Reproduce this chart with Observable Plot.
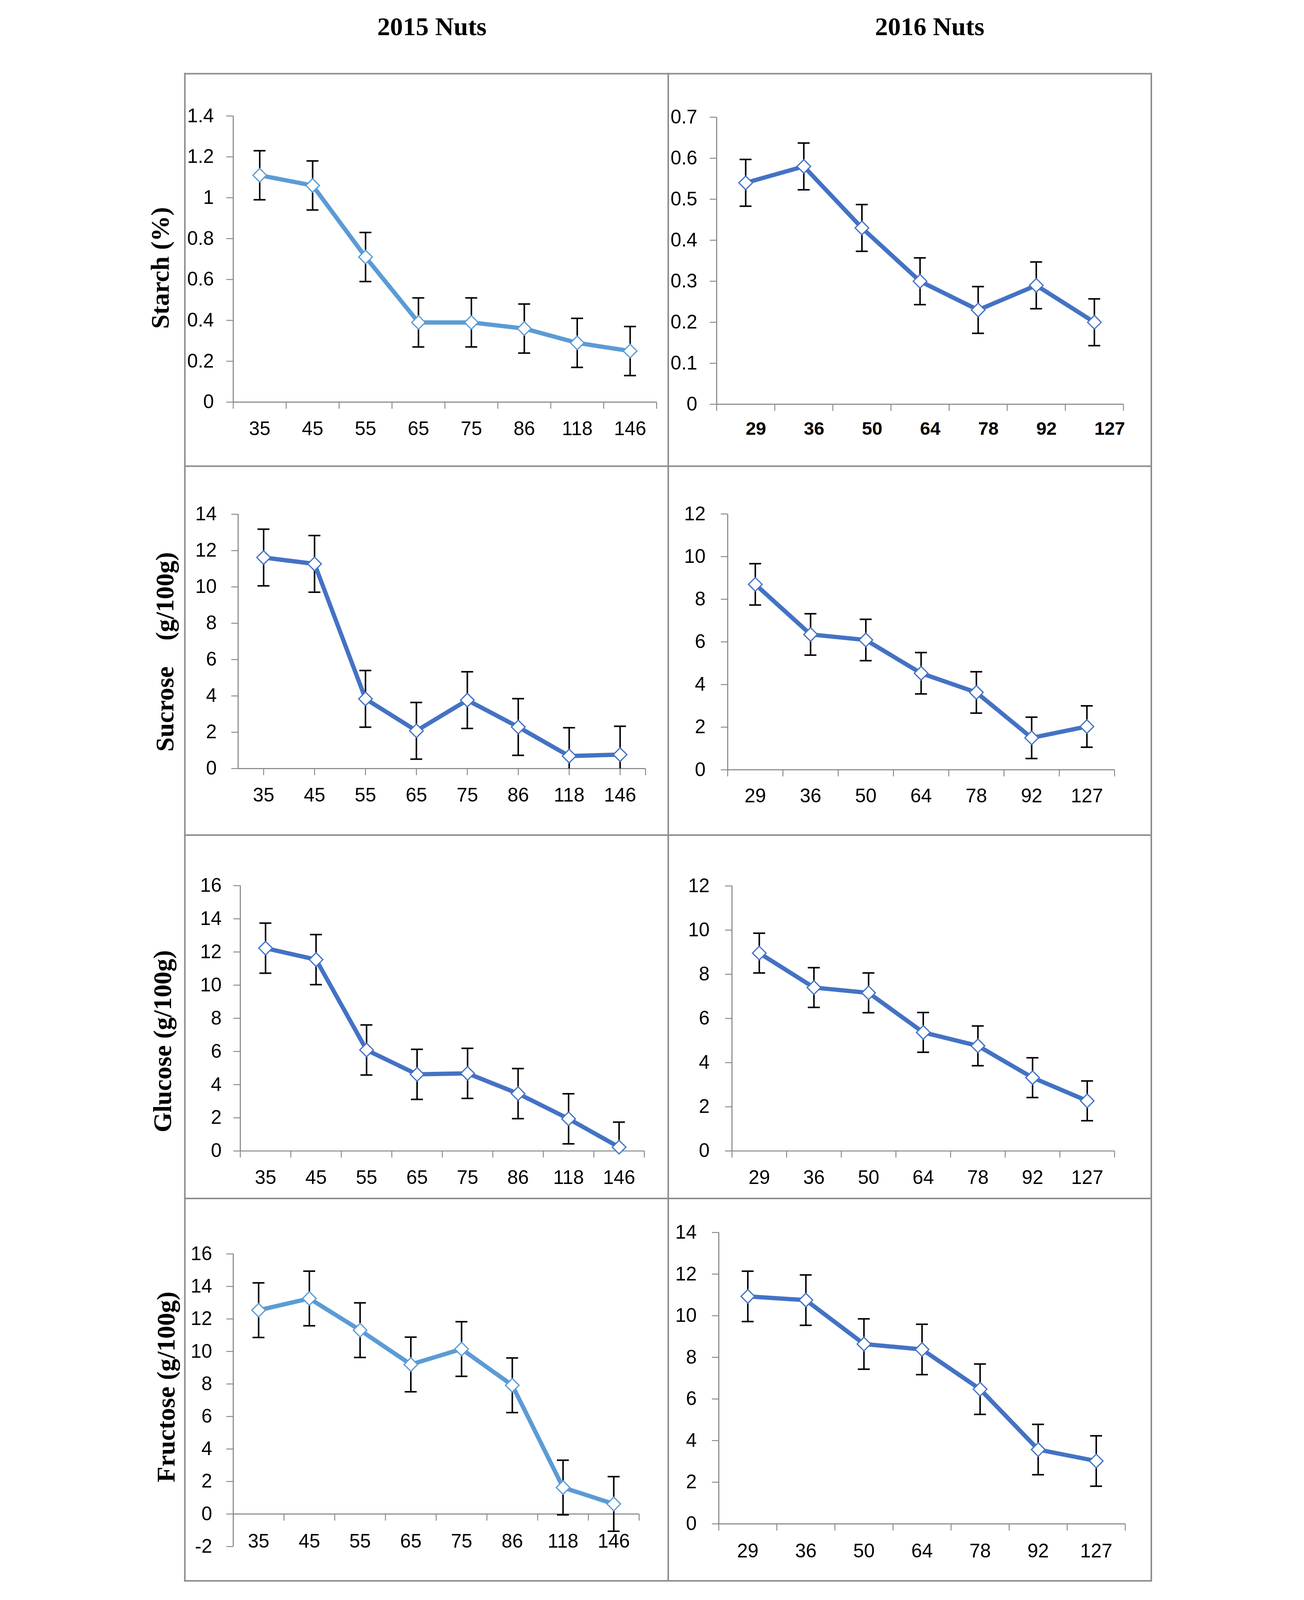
<!DOCTYPE html>
<html>
<head>
<meta charset="utf-8">
<script src="https://cdn.jsdelivr.net/npm/d3@7"></script>
<script src="https://cdn.jsdelivr.net/npm/@observablehq/plot@0.6"></script>
<style>
html, body { margin: 0; padding: 0; background: #fff; overflow: hidden; }
#page { position: absolute; left: 0; top: 0; width: 3339px; height: 5222px; background: #fff; overflow: hidden; transform-origin: 0 0; }
.title { position: absolute; font-family: "Liberation Serif", "Times New Roman", serif; font-weight: bold; font-size: 84px; line-height: 1; white-space: nowrap; transform: translate(-50%, 0); color: #000; }
.panel { position: absolute; }
.panel svg { overflow: visible; }
.rule { position: absolute; background: #8c8c8c; z-index: 5; }
</style>
</head>
<body>
<div id="page"></div>
<script>
// ---------- data ----------
const days2015 = ["35", "45", "55", "65", "75", "86", "118", "146"];
const days2016 = ["29", "36", "50", "64", "78", "92", "127"];

const starch2015 = [1.11, 1.06, 0.71, 0.39, 0.39, 0.36, 0.29, 0.25];
const starch2015Err = 0.12;
const starch2016 = [0.54, 0.58, 0.43, 0.30, 0.23, 0.29, 0.20];
const starch2016Err = 0.057;

const sucrose2015 = [11.62, 11.27, 3.84, 2.08, 3.77, 2.29, 0.69, 0.77];
const sucrose2015Err = 1.56;
const sucrose2016 = [8.70, 6.35, 6.09, 4.53, 3.63, 1.50, 2.03];
const sucrose2016Err = 0.97;

const glucose2015 = [12.23, 11.54, 6.09, 4.62, 4.68, 3.46, 1.94, 0.23];
const glucose2015Err = 1.51;
const glucose2016 = [8.96, 7.40, 7.16, 5.37, 4.76, 3.32, 2.27];
const glucose2016Err = 0.90;

const fructose2015 = [12.54, 13.26, 11.31, 9.20, 10.15, 7.92, 1.63, 0.62];
const fructose2015Err = 1.68;
const fructose2016 = [10.93, 10.75, 8.64, 8.38, 6.47, 3.57, 3.02];
const fructose2016Err = 1.21;

const starchTicks2015 = [0, 0.2, 0.4, 0.6, 0.8, 1, 1.2, 1.4];
const starchTicks2016 = [0, 0.1, 0.2, 0.3, 0.4, 0.5, 0.6, 0.7];
const sucroseTicks2015 = [0, 2, 4, 6, 8, 10, 12, 14];
const sucroseTicks2016 = [0, 2, 4, 6, 8, 10, 12];
const glucoseTicks2015 = [0, 2, 4, 6, 8, 10, 12, 14, 16];
const glucoseTicks2016 = [0, 2, 4, 6, 8, 10, 12];
const fructoseTicks2015 = [-2, 0, 2, 4, 6, 8, 10, 12, 14, 16];
const fructoseTicks2016 = [0, 2, 4, 6, 8, 10, 12, 14];

const columnTitles = ["2015 Nuts", "2016 Nuts"];
const rowTitles = ["Starch (%)", "Sucrose\u00a0\u00a0\u00a0\u00a0(g/100g)", "Glucose (g/100g)", "Fructose (g/100g)"];

// ---------- styles ----------
const lightBlue = "#5B9BD5";
const darkBlue = "#4472C4";
const axisGray = "#868686";
const tickFont = "'Liberation Sans', Arial, sans-serif";
const serifFont = "'Liberation Serif', 'Times New Roman', serif";

// ---------- layout (page pixels of the full 3339x5222 figure) ----------
const layouts = [
  {x0: 0, x1: 1722, y0: 240, y1: 1521, axisX: 302, axisRight: 1684, top: 378, bottom: 1312, labelDy: 87, tickPad: 41, titleX: 64, titleY: 874},
  {x0: 1722, x1: 3339, y0: 240, y1: 1521, axisX: 1880, axisRight: 3208, top: 382, bottom: 1319, labelDy: 80, tickPad: 41, labelAnchor: "start", labelWeight: "bold", labelSize: 60},
  {x0: 0, x1: 1722, y0: 1521, y1: 2725, axisX: 318, axisRight: 1648, top: 1678, bottom: 2508, labelDy: 88, tickPad: 48, titleX: 80, titleY: 2127, onTicks: true},
  {x0: 1722, x1: 3339, y0: 1521, y1: 2725, axisX: 1916, axisRight: 3179, top: 1677, bottom: 2512, labelDy: 86, tickPad: 50},
  {x0: 0, x1: 1722, y0: 2725, y1: 3911, axisX: 325, axisRight: 1644, top: 2890, bottom: 3756, labelDy: 88, tickPad: 39, titleX: 72, titleY: 3398},
  {x0: 1722, x1: 3339, y0: 2725, y1: 3911, axisX: 1930, axisRight: 3179, top: 2891, bottom: 3756, labelDy: 88, tickPad: 51},
  {x0: 0, x1: 1722, y0: 3911, y1: 5222, axisX: 302, axisRight: 1627, top: 4092, bottom: 5047, labelDy: 89, tickPad: 47, titleX: 83, titleY: 4526},
  {x0: 1722, x1: 3339, y0: 3911, y1: 5222, axisX: 1887, axisRight: 3214, top: 4022, bottom: 4973, labelDy: 89, tickPad: 50}
];

const panels = [
  {cats: days2015, vals: starch2015, err: starch2015Err, ticks: starchTicks2015, color: lightBlue, title: rowTitles[0]},
  {cats: days2016, vals: starch2016, err: starch2016Err, ticks: starchTicks2016, color: darkBlue},
  {cats: days2015, vals: sucrose2015, err: sucrose2015Err, ticks: sucroseTicks2015, color: darkBlue, title: rowTitles[1]},
  {cats: days2016, vals: sucrose2016, err: sucrose2016Err, ticks: sucroseTicks2016, color: darkBlue},
  {cats: days2015, vals: glucose2015, err: glucose2015Err, ticks: glucoseTicks2015, color: darkBlue, title: rowTitles[2]},
  {cats: days2016, vals: glucose2016, err: glucose2016Err, ticks: glucoseTicks2016, color: darkBlue},
  {cats: days2015, vals: fructose2015, err: fructose2015Err, ticks: fructoseTicks2015, color: lightBlue, title: rowTitles[3]},
  {cats: days2016, vals: fructose2016, err: fructose2016Err, ticks: fructoseTicks2016, color: darkBlue}
];

const page = document.getElementById("page");

// column titles
[[951, columnTitles[0]], [2576, columnTitles[1]]].forEach(([cx, t]) => {
  const d = document.createElement("div");
  d.className = "title";
  d.style.left = cx + "px";
  d.style.top = "45px";
  d.textContent = t;
  page.appendChild(d);
});

function drawPanel(p, L) {
  const N = p.cats.length;
  const ymin = p.ticks[0], ymax = p.ticks[p.ticks.length - 1];
  const cross = 0;
  const rows = p.cats.map((c, i) => {
    const v = p.vals[i];
    return {
      c, x: i + 0.5, v,
      lo: Math.max(v - p.err, ymin), hi: Math.min(v + p.err, ymax),
      loClip: v - p.err < ymin, hiClip: v + p.err > ymax
    };
  });
  const unitPerPxY = (ymax - ymin) / (L.bottom - L.top);
  const bandPx = (L.axisRight - L.axisX) / N;
  const capHalf = 19.5 / bandPx;
  const tickLen = 22 * unitPerPxY;
  const xTickPos = L.onTicks ? [...d3.range(N).map(i => i + 0.5), N] : d3.range(N + 1);

  const marks = [
    Plot.ruleX(xTickPos, {x: d => d, y1: () => cross, y2: () => cross - tickLen, stroke: axisGray, strokeWidth: 3}),
    Plot.ruleY([cross], {stroke: axisGray, strokeWidth: 3.5}),
    Plot.ruleX([0], {stroke: axisGray, strokeWidth: 3.5}),
    Plot.axisY({ticks: p.ticks, tickSize: 22, tickPadding: L.tickPad, tickFormat: d => String(d),
      stroke: axisGray, strokeWidth: 3, fill: "#000", fontSize: 63, fontFamily: tickFont, label: null}),
    Plot.ruleX(rows, {x: "x", y1: "lo", y2: "hi", stroke: "#000", strokeWidth: 5}),
    Plot.ruleY(rows.filter(r => !r.hiClip), {y: "hi", x1: r => r.x - capHalf, x2: r => r.x + capHalf, stroke: "#000", strokeWidth: 5}),
    Plot.ruleY(rows.filter(r => !r.loClip), {y: "lo", x1: r => r.x - capHalf, x2: r => r.x + capHalf, stroke: "#000", strokeWidth: 5}),
    Plot.line(rows, {x: "x", y: "v", stroke: p.color, strokeWidth: 14, strokeLinejoin: "round"}),
    Plot.dot(rows, {x: "x", y: "v", symbol: "diamond2", r: 20, fill: "#fff", stroke: p.color, strokeWidth: 4}),
    Plot.text(rows, {x: "x", y: () => cross, text: "c", dy: L.labelDy, dx: 0,
      textAnchor: L.labelAnchor || "middle", fontSize: L.labelSize || 63,
      fontWeight: L.labelWeight || "normal", fontFamily: tickFont, fill: "#000"})
  ];
  if (p.title) {
    marks.push(Plot.text([p.title], {frameAnchor: "left", text: d => d, rotate: -90,
      textAnchor: "middle", lineAnchor: "middle",
      dx: L.titleX - L.axisX, dy: L.titleY - (L.top + L.bottom) / 2,
      fontSize: 84, fontWeight: "bold", fontFamily: serifFont, fill: "#000"}));
  }

  const chart = Plot.plot({
    width: L.x1 - L.x0,
    height: L.y1 - L.y0,
    marginLeft: L.axisX - L.x0,
    marginRight: L.x1 - L.axisRight,
    marginTop: L.top - L.y0,
    marginBottom: L.y1 - L.bottom,
    x: {domain: [0, N], axis: null},
    y: {domain: [ymin, ymax]},
    style: {background: "transparent", fontFamily: tickFont, overflow: "visible"},
    marks
  });
  const wrap = document.createElement("div");
  wrap.className = "panel";
  wrap.style.left = L.x0 + "px";
  wrap.style.top = L.y0 + "px";
  wrap.style.width = (L.x1 - L.x0) + "px";
  wrap.style.height = (L.y1 - L.y0) + "px";
  wrap.appendChild(chart);
  page.appendChild(wrap);
}

panels.forEach((p, i) => drawPanel(p, layouts[i]));

// frame lines of the panel grid
function rule(x, y, w, h) {
  const d = document.createElement("div");
  d.className = "rule";
  d.style.left = x + "px"; d.style.top = y + "px";
  d.style.width = w + "px"; d.style.height = h + "px";
  page.appendChild(d);
}
rule(142, 238, 3160, 5);     // top
rule(142, 5157, 3160, 5);    // bottom
rule(142, 238, 5, 4924);     // left
rule(3297, 238, 5, 4924);    // right
rule(1720, 238, 5, 4924);    // middle
[1519, 2723, 3909].forEach(y => rule(142, y, 3160, 5));

// fit the whole 3339x5222 figure into the actual viewport (keeps aspect ratio)
function fit() {
  const vw = window.innerWidth || 3339, vh = window.innerHeight || 5222;
  const s = Math.min(vw / 3339, vh / 5222, 1);
  page.style.transform = `scale(${s})`;
  page.style.left = Math.max(0, (vw - 3339 * s) / 2) + "px";
}
fit();
window.addEventListener("resize", fit);
</script>
</body>
</html>
